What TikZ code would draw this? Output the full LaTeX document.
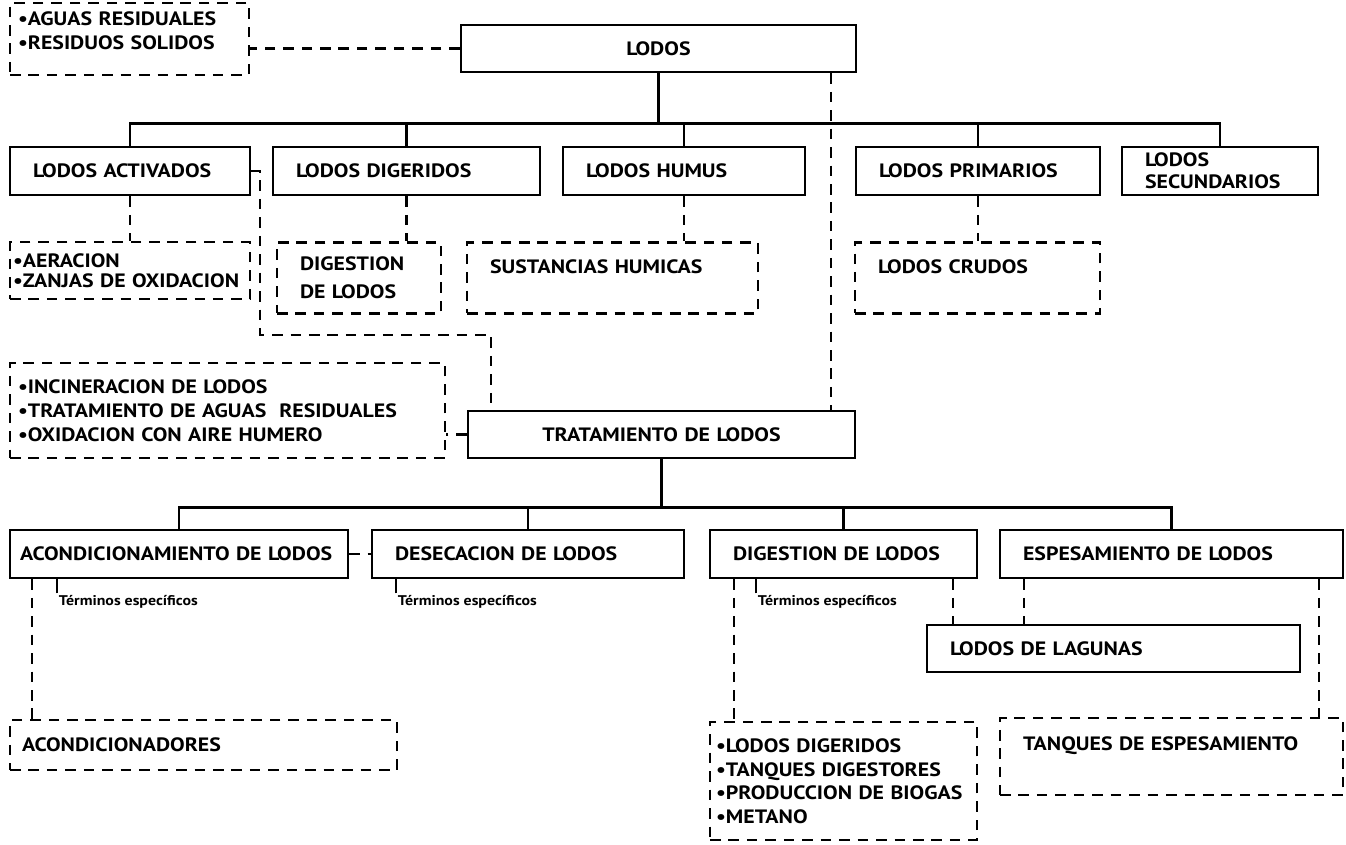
\documentclass[tikz,border=0pt]{standalone}
\usepackage{fontspec}
\setmainfont{PT Sans}[FakeStretch=1.13]
\usepackage{tikz}

\begin{document}
\begin{tikzpicture}[
    x=0.02cm, y=-0.02cm,
    box/.style={draw, line width=1.5pt, inner xsep=0.46cm, inner ysep=2pt, align=left,
      font=\bfseries\fontsize{11}{13.6}\selectfont},
    dbox/.style={box, line width=1.2pt, dash pattern=on 6pt off 4.5pt},
    conn/.style={line width=1.5pt},
    link/.style={line width=1.2pt, dash pattern=on 6pt off 4.5pt},
    term/.style={anchor=north west, inner sep=1pt, font=\bfseries\fontsize{8}{10}\selectfont}
  ]
  \useasboundingbox (0,0) rectangle (1346,845);

  % Top level
  \node[dbox, inner xsep=0.16cm, text width=4.46cm, minimum height=1.44cm] (src) at (129.5,39)
    {\textbullet AGUAS RESIDUALES\\\textbullet RESIDUOS SOLIDOS\\[-4pt]\mbox{}};
  \node[box, align=center, text width=6.98cm, minimum height=0.94cm] (lodos) at (658.5,48.5) {LODOS};

  % Kinds of sludge
  \node[box, text width=3.88cm, minimum height=0.96cm] (act) at (130,171) {LODOS ACTIVADOS};
  \node[box, text width=4.42cm, minimum height=0.96cm] (dig) at (406.5,171) {LODOS DIGERIDOS};
  \node[box, text width=3.92cm, minimum height=0.96cm] (hum) at (684,171) {LODOS HUMUS};
  \node[box, text width=3.96cm, minimum height=0.96cm] (pri) at (978,171) {LODOS PRIMARIOS};
  \node[box, text width=3.0cm, minimum height=0.96cm, font=\bfseries\fontsize{11}{12.5}\selectfont]
    (sec) at (1220,171) {LODOS\\SECUNDARIOS};

  \node[dbox, inner xsep=0.06cm, text width=4.68cm, minimum height=1.14cm,
    font=\bfseries\fontsize{11}{11.5}\selectfont] (aer) at (130,270.5)
    {\textbullet AERACION\\\textbullet ZANJAS DE OXIDACION};
  \node[dbox, text width=2.36cm, minimum height=1.42cm, font=\bfseries\fontsize{11}{15.9}\selectfont]
    (digl) at (359,278) {DIGESTION\\DE LODOS};
  \node[dbox, text width=4.9cm, minimum height=1.42cm, text depth=0.45cm] (humi) at (612.5,278)
    {SUSTANCIAS HUMICAS};
  \node[dbox, text width=3.98cm, minimum height=1.42cm, text depth=0.45cm] (cru) at (977.5,278)
    {LODOS CRUDOS};

  % Treatment
  \node[dbox, inner xsep=0.16cm, text width=8.38cm, minimum height=1.9cm] (inc) at (227.5,410.5)
    {\textbullet INCINERACION DE LODOS\\\textbullet TRATAMIENTO DE AGUAS\ \ RESIDUALES\\\textbullet OXIDACION CON AIRE HUMERO};
  \node[box, align=center, text width=6.82cm, minimum height=0.94cm] (tra) at (661.5,434.5)
    {TRATAMIENTO DE LODOS};

  \node[box, inner xsep=0.2cm, text width=6.36cm, minimum height=0.96cm] (aco) at (179,554)
    {ACONDICIONAMIENTO DE LODOS};
  \node[box, text width=5.32cm, minimum height=0.96cm] (des) at (528,554) {DESECACION DE LODOS};
  \node[box, text width=4.42cm, minimum height=0.96cm] (dlo) at (843.5,554) {DIGESTION DE LODOS};
  \node[box, text width=5.94cm, minimum height=0.96cm] (esp) at (1171.5,554) {ESPESAMIENTO DE LODOS};
  \node[box, text width=6.54cm, minimum height=0.94cm] (lag) at (1113.5,648.5) {LODOS DE LAGUNAS};

  \node[term] (t1) at ([xshift=0.96cm, yshift=-0.28cm]aco.south west) {Términos específicos};
  \node[term] (t2) at ([xshift=0.5cm, yshift=-0.28cm]des.south west) {Términos específicos};
  \node[term] (t3) at ([xshift=0.94cm, yshift=-0.28cm]dlo.south west) {Términos específicos};

  \node[dbox, inner xsep=0.24cm, text width=7.26cm, minimum height=1.0cm] (acd) at (203.5,745)
    {ACONDICIONADORES};
  \node[dbox, inner xsep=0.12cm, text width=5.1cm, minimum height=2.36cm,
    font=\bfseries\fontsize{11}{13.4}\selectfont] (bio) at (843.5,781)
    {\textbullet LODOS DIGERIDOS\\\textbullet TANQUES DIGESTORES\\\mbox{\textbullet PRODUCCION DE BIOGAS}\\\textbullet METANO};
  \node[dbox, text width=5.94cm, minimum height=1.54cm, text depth=0.52cm] (tan) at (1171.5,756.5)
    {TANQUES DE ESPESAMIENTO};

  % Solid tree lines
  \coordinate (bus1) at ([yshift=-1cm]lodos.south);
  \draw[conn] (lodos.south) -- (bus1);
  \foreach \n in {act,dig,hum,pri,sec}
    \draw[conn] (bus1) -| (\n.north);
  \coordinate (bus2) at ([yshift=-0.96cm]tra.south);
  \draw[conn] (tra.south) -- (bus2);
  \foreach \n in {aco,des,dlo,esp}
    \draw[conn] (bus2) -| (\n.north);
  \foreach \n in {t1,t2,t3}
    \draw[line width=1pt] (\n.north west) -- ++(0,0.28cm);

  % Dashed links
  \draw[link] (lodos.west) -- (lodos.west -| src.east);
  \foreach \a/\b in {act/aer,dig/digl,hum/humi,pri/cru}
    \draw[link] (\a.south) -- (\a.south |- \b.north);
  \draw[link] (act.east) -- ++(9,0) |- ([xshift=0.48cm, yshift=1.5cm]tra.north west)
    -- ([xshift=0.48cm]tra.north west);
  \draw[link] ([xshift=-0.52cm]lodos.south east) -- ([xshift=-0.52cm]lodos.south east |- tra.north);
  \draw[link] (tra.west) -- (tra.west -| inc.east);
  \draw[link] (aco.east) -- (des.west);
  \draw[link] ([xshift=0.46cm]aco.south west) -- ([xshift=0.46cm]aco.south west |- acd.north);
  \draw[link] ([xshift=0.5cm]dlo.south west) -- ([xshift=0.5cm]dlo.south west |- bio.north);
  \draw[link] ([xshift=-0.5cm]dlo.south east) -- ([xshift=-0.5cm]dlo.south east |- lag.north);
  \draw[link] ([xshift=0.5cm]esp.south west) -- ([xshift=0.5cm]esp.south west |- lag.north);
  \draw[link] ([xshift=-0.5cm]esp.south east) -- ([xshift=-0.5cm]esp.south east |- tan.north);
\end{tikzpicture}
\end{document}
